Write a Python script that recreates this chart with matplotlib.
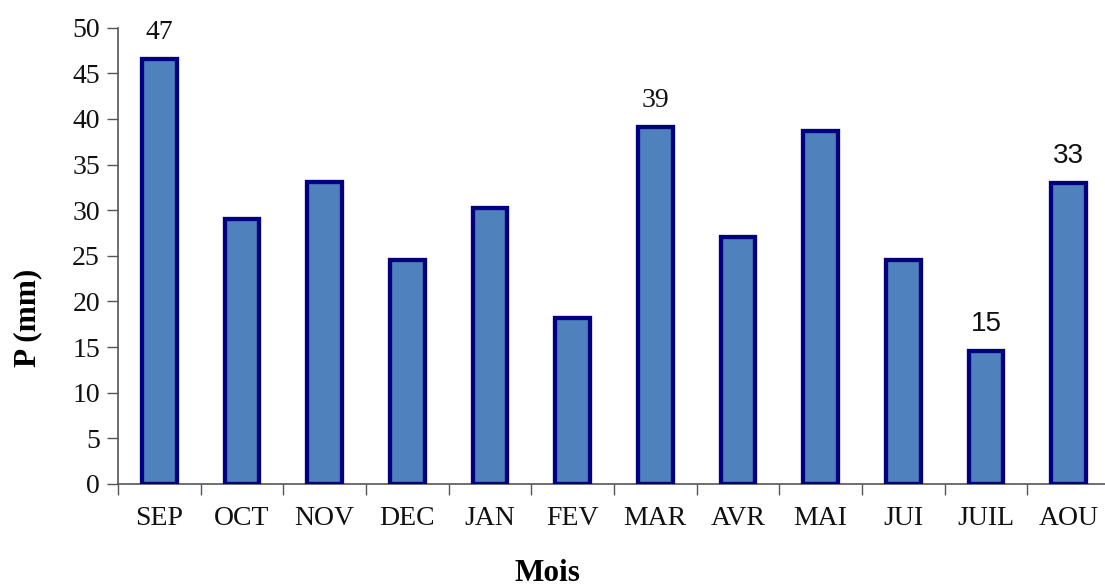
import matplotlib
matplotlib.use("Agg")
import matplotlib.pyplot as plt
import numpy as np

# Monthly precipitation (mm)
months = ["SEP", "OCT", "NOV", "DEC", "JAN", "FEV", "MAR", "AVR", "MAI", "JUI", "JUIL", "AOU"]
precip = [46.6, 29.0, 33.1, 24.5, 30.2, 18.2, 39.1, 27.1, 38.7, 24.5, 14.6, 33.0]
yticks = [0, 5, 10, 15, 20, 25, 30, 35, 40, 45, 50]

# months whose value is printed above the bar, with the font used for it
labelled = {"SEP": "Liberation Serif", "MAR": "Liberation Serif",
            "JUIL": "Liberation Sans", "AOU": "Liberation Sans"}

fig = plt.figure(figsize=(11.05, 5.88), dpi=100)
ax = fig.add_axes([0.1068, 0.1769, 0.8976, 0.776])

x = np.arange(len(months))
ax.bar(x, precip, width=0.42, color="#4F81BD", edgecolor="#000080",
       linewidth=3.1, zorder=3)

ax.set_xlim(-0.5, len(months) - 0.5)
ax.set_ylim(0, 50)
ax.set_yticks(yticks)
ax.set_yticklabels([str(t) for t in yticks])

# tick marks between categories, names centred under each bar
ax.set_xticks(np.arange(len(months) + 1) - 0.5)
ax.set_xticklabels([])
ax.set_xticks(x, minor=True)
ax.set_xticklabels(months, minor=True)
ax.tick_params(axis="x", which="major", length=8, width=1, color="#555555", direction="out")
ax.tick_params(axis="x", which="minor", length=0, pad=16)
ax.tick_params(axis="y", length=8, width=1, color="#555555", direction="out", pad=5)

for lab in ax.get_xticklabels(minor=True) + ax.get_yticklabels():
    lab.set_fontfamily("Liberation Serif")
    lab.set_fontsize(20)
    lab.set_color("#111111")

for side in ("top", "right"):
    ax.spines[side].set_visible(False)
for side in ("left", "bottom"):
    ax.spines[side].set_color("#555555")
    ax.spines[side].set_linewidth(1.2)

for xi, name, val in zip(x, months, precip):
    if name in labelled:
        ax.annotate(f"{val:.0f}", (xi, val), xytext=(0, 19), textcoords="offset points",
                    ha="center", va="center", fontsize=20,
                    fontfamily=labelled[name], color="#111111")

fig.text(0.4955, 0.012, "Mois", ha="center", va="baseline",
         fontfamily="Liberation Serif", fontweight="bold", fontsize=22.5)
fig.text(0.025, 0.459, "P (mm)", ha="center", va="center", rotation=90,
         fontfamily="Liberation Serif", fontweight="bold", fontsize=22.5)

fig.savefig("out.png", dpi=100)
